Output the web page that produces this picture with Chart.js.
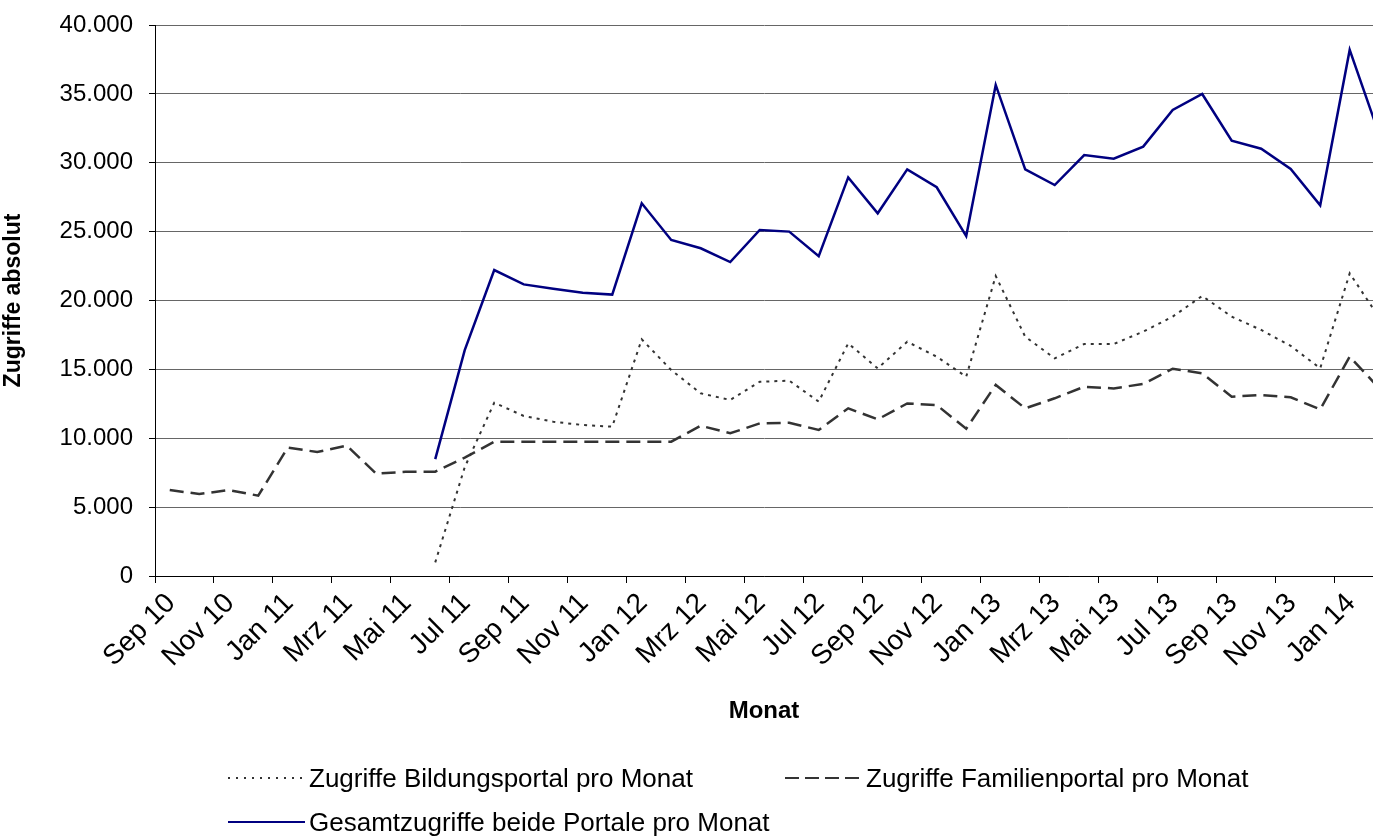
<!DOCTYPE html>
<html><head><meta charset="utf-8">
<script src="https://cdn.jsdelivr.net/npm/chart.js@4/dist/chart.umd.min.js"></script>
<style>
html,body{margin:0;padding:0;background:#fff;overflow:hidden;}
#wrap{position:relative;width:1373px;height:836px;}
canvas{position:absolute;left:0;top:0;}
.lg{position:absolute;font-family:"Liberation Sans",Arial,sans-serif;font-size:26px;color:#000;white-space:nowrap;line-height:30px;height:30px;}
.lg svg{position:absolute;top:0;}
</style></head><body>
<div id="wrap"><canvas id="c" width="1373" height="836"></canvas><div id="legend"></div></div>
<script>
const months = ["Sep 10","Okt 10","Nov 10","Dez 10",
  "Jan 11","Feb 11","Mrz 11","Apr 11","Mai 11","Jun 11","Jul 11","Aug 11","Sep 11","Okt 11","Nov 11","Dez 11",
  "Jan 12","Feb 12","Mrz 12","Apr 12","Mai 12","Jun 12","Jul 12","Aug 12","Sep 12","Okt 12","Nov 12","Dez 12",
  "Jan 13","Feb 13","Mrz 13","Apr 13","Mai 13","Jun 13","Jul 13","Aug 13","Sep 13","Okt 13","Nov 13","Dez 13",
  "Jan 14","Feb 14"];
const bildung = [null,null,null,null,null,null,null,null,null,990,
  7900,12580,11620,11200,10960,10840,17180,14950,13260,12780,
  14100,14180,12660,16890,15070,17010,15920,14470,21780,17370,
  15800,16840,16840,17740,18830,20330,18830,17860,16700,15080,
  21970,18760];
const familien = [6240,5950,6240,5830,9320,9000,9460,7430,7570,7570,
  8590,9750,9750,9750,9750,9750,9750,9750,10910,10360,
  11080,11130,10600,12170,11370,12530,12410,10690,13870,12170,
  12900,13740,13620,13940,15050,14710,13020,13140,12970,12100,
  15920,13630];
const gesamt = [null,null,null,null,null,null,null,null,null,8490,
  16400,22210,21170,20860,20570,20430,27060,24390,23790,22790,
  25120,25000,23210,28940,26330,29520,28220,24680,35650,29520,
  28380,30560,30300,31170,33830,34990,31600,31020,29550,26910,
  38190,32050];
const seriesNames = ["Zugriffe Bildungsportal pro Monat","Zugriffe Familienportal pro Monat","Gesamtzugriffe beide Portale pro Monat"];
const yTicks = [0,5000,10000,15000,20000,25000,30000,35000,40000];
const xTickIdx = months.map((m,i)=>i).filter(i=>i%2===0);

const FONT = '"Liberation Sans", Arial, sans-serif';
const fmt = v => String(v).replace(/\B(?=(\d{3})+(?!\d))/g, '.');
const toPts = arr => arr.map((v,i)=>({x:i, y:v}));

const styles = [
  {color:'#333333', width:2, dash:[3,5]},
  {color:'#333333', width:2.5, dash:[14,7]},
  {color:'#000080', width:2.5, dash:[]}
];
const seriesData = [bildung, familien, gesamt];

new Chart(document.getElementById('c'), {
  type:'line',
  data:{datasets: seriesData.map((d,k)=>({
    label: seriesNames[k], data: toPts(d),
    borderColor: styles[k].color, borderWidth: styles[k].width, borderDash: styles[k].dash,
    pointRadius:0, fill:false, tension:0, spanGaps:false
  }))},
  options:{
    responsive:false, animation:false, devicePixelRatio:1,
    layout:{padding:{top:25,right:0,bottom:100,left:0}},
    plugins:{legend:{display:false}, tooltip:{enabled:false}},
    scales:{
      x:{type:'linear', min:-0.5, max:40.79,
        afterBuildTicks: s => { s.ticks = xTickIdx.map(i=>({value:i-0.5})); },
        afterFit: s => { s.height = 160; },
        grid:{drawOnChartArea:false, drawTicks:true, tickLength:7, color:'#000', tickColor:'#000'},
        border:{display:true, color:'#000', width:1},
        ticks:{autoSkip:false, maxRotation:45, minRotation:45, labelOffset:16, padding:4, color:'#000',
          font:{family:FONT, size:28}, callback: v => months[Math.round(v+0.5)]},
        title:{display:true, text:'Monat', color:'#000', font:{family:FONT, size:24, weight:'bold'}, padding:{top:0,bottom:10}}
      },
      y:{min:0, max:40000,
        afterBuildTicks: s => { s.ticks = yTicks.map(v=>({value:v})); },
        afterFit: s => { s.width = 155; s.paddingTop = 12; s.paddingBottom = 12; },
        grid:{color:'#666', tickColor:'#000', tickLength:6, drawTicks:true},
        border:{display:true, color:'#000', width:1},
        ticks:{padding:16, color:'#000', font:{family:FONT, size:24}, callback: v => fmt(v)},
        title:{display:true, text:'Zugriffe absolut', color:'#000', font:{family:FONT, size:23, weight:'bold'}, padding:{top:0,bottom:0}}
      }
    }
  }
});

// HTML legend
const legendPos = [{x:228, y:763}, {x:785, y:763}, {x:228, y:807}];
const lg = document.getElementById('legend');
seriesNames.forEach((name,k)=>{
  const d = document.createElement('div');
  d.className = 'lg';
  d.style.left = legendPos[k].x + 'px';
  d.style.top = legendPos[k].y + 'px';
  d.style.paddingLeft = '81px';
  const st = styles[k];
  const dash = k===0 ? '2,6' : (k===1 ? '14,6' : 'none');
  d.innerHTML = '<svg width="78" height="30" style="left:0"><line x1="0" y1="15" x2="77" y2="15" stroke="'+st.color+'" stroke-width="2" stroke-dasharray="'+dash+'"/></svg>';
  d.appendChild(document.createTextNode(name));
  lg.appendChild(d);
});
</script>
</body></html>
